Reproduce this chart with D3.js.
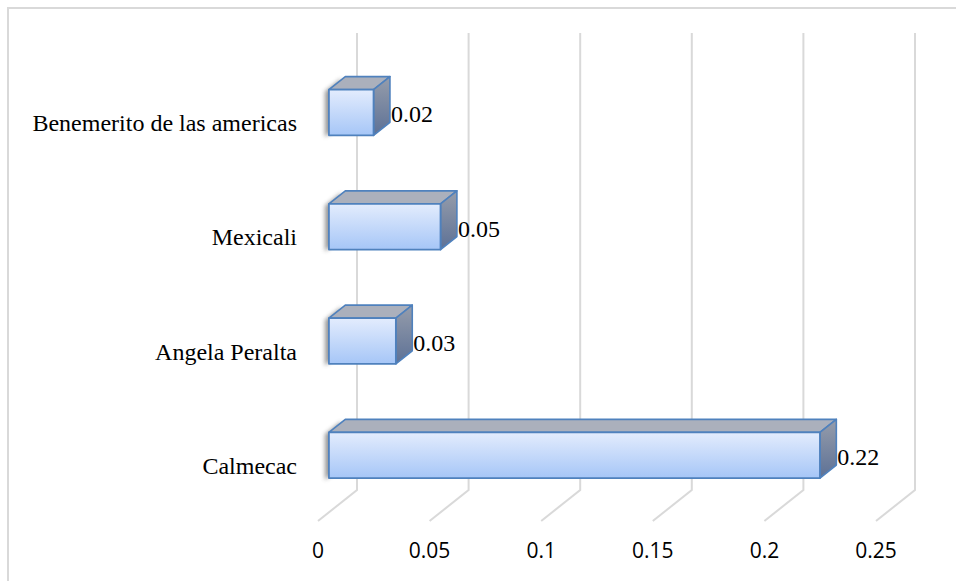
<!DOCTYPE html>
<html>
<head>
<meta charset="utf-8">
<script src="https://cdn.jsdelivr.net/npm/d3@7"></script>
<style>
  html, body { margin: 0; padding: 0; background: #fff; }
  svg { display: block; }
</style>
</head>
<body>
<svg id="chart" width="956" height="581"></svg>
<script>
// Chart data
const categories = ["Benemerito de las americas", "Mexicali", "Angela Peralta", "Calmecac"];
const values = [0.02, 0.05, 0.03, 0.22];
const tickValues = [0, 0.05, 0.1, 0.15, 0.2, 0.25];
const tickLabels = ["0", "0.05", "0.1", "0.15", "0.2", "0.25"];

const svg = d3.select("#chart");
const W = 956, H = 581;

// Back wall scales
const x = d3.scaleLinear().domain([0, 0.25]).range([357, 915]);
const y = d3.scaleBand().domain(categories).range([33, 490])
  .paddingInner(0.6).paddingOuter(0.3);

// Oblique depth offset from back wall (z=0) to front edge (z=1)
const DX = -39, DY = 31;
const zBack = 0.3, zFront = 0.72;
const P = (v, yy, z) => [x(v) + DX * z, yy + DY * z];

const defs = svg.append("defs");
const gFront = defs.append("linearGradient").attr("id", "gFront")
  .attr("x1", 0).attr("y1", 0).attr("x2", 0).attr("y2", 1);
gFront.append("stop").attr("offset", "0%").attr("stop-color", "#e3ecfd");
gFront.append("stop").attr("offset", "100%").attr("stop-color", "#a6c6f7");
const gSide = defs.append("linearGradient").attr("id", "gSide")
  .attr("x1", 0).attr("y1", 0).attr("x2", 0).attr("y2", 1);
gSide.append("stop").attr("offset", "0%").attr("stop-color", "#969dab");
gSide.append("stop").attr("offset", "100%").attr("stop-color", "#5d7196");
defs.append("filter").attr("id", "soft")
  .attr("x", "-50%").attr("y", "-50%").attr("width", "200%").attr("height", "200%")
  .append("feGaussianBlur").attr("stdDeviation", 2.2);

// Outer frame
svg.append("rect").attr("x", 8).attr("y", 8).attr("width", W + 20).attr("height", H + 20)
  .attr("fill", "none").attr("stroke", "#d9d9d9").attr("stroke-width", 2);

// Gridlines: back wall verticals + floor diagonals
const grid = svg.append("g").attr("stroke", "#d9d9d9").attr("stroke-width", 2).attr("fill", "none");
tickValues.forEach(t => {
  const top = P(t, 33, 0), bot = P(t, 490, 0), front = P(t, 490, 1);
  grid.append("path").attr("d", d3.line()([top, bot, front]));
});

// Tick labels along the front floor edge
svg.append("g").selectAll("text").data(tickValues).join("text")
  .attr("x", d => P(d, 490, 1)[0])
  .attr("y", 558)
  .attr("text-anchor", "middle")
  .attr("font-family", "'Open Sans', sans-serif")
  .attr("font-size", 21)
  .attr("fill", "#000")
  .text((d, i) => tickLabels[i]);

// Bars
const bars = svg.append("g");
categories.forEach((c, i) => {
  const v = values[i];
  const y0 = y(c), y1 = y(c) + y.bandwidth();
  const ftl = P(0, y0, zFront), ftr = P(v, y0, zFront);
  const fbl = P(0, y1, zFront), fbr = P(v, y1, zFront);
  const btl = P(0, y0, zBack), btr = P(v, y0, zBack);
  const bbr = P(v, y1, zBack), bbl = P(0, y1, zBack);
  const g = bars.append("g");
  // soft shadow at the left end cap
  g.append("path")
    .attr("d", d3.line()([ftl, btl, bbl, fbl].map(p => [p[0] - 4, p[1] + 2])) + "Z")
    .attr("fill", "#555").attr("opacity", 0.6).attr("filter", "url(#soft)");
  // top face
  g.append("path").attr("d", d3.line()([ftl, btl, btr, ftr]) + "Z")
    .attr("fill", "#abb0bc").attr("stroke", "#4f81bd").attr("stroke-width", 1.6)
    .attr("stroke-linejoin", "round");
  // right face
  g.append("path").attr("d", d3.line()([ftr, btr, bbr, fbr]) + "Z")
    .attr("fill", "url(#gSide)").attr("stroke", "#4f81bd").attr("stroke-width", 1.6)
    .attr("stroke-linejoin", "round");
  // front face
  g.append("path").attr("d", d3.line()([ftl, ftr, fbr, fbl]) + "Z")
    .attr("fill", "url(#gFront)").attr("stroke", "#4f81bd").attr("stroke-width", 1.8)
    .attr("stroke-linejoin", "round");
  // value label
  svg.append("text")
    .attr("x", btr[0] + 1)
    .attr("y", (ftl[1] + fbl[1]) / 2 + 10)
    .attr("font-family", "'Liberation Serif', 'Times New Roman', serif")
    .attr("font-size", 24)
    .attr("fill", "#000")
    .text(v);
});

// Category labels
svg.append("g").selectAll("text").data(categories).join("text")
  .attr("x", P(0, 0, 1)[0] - 21)
  .attr("y", d => y(d) + y.bandwidth() / 2 + DY + 10)
  .attr("text-anchor", "end")
  .attr("font-family", "'Liberation Serif', 'Times New Roman', serif")
  .attr("font-size", 24)
  .attr("fill", "#000")
  .text(d => d);
</script>
</body>
</html>
